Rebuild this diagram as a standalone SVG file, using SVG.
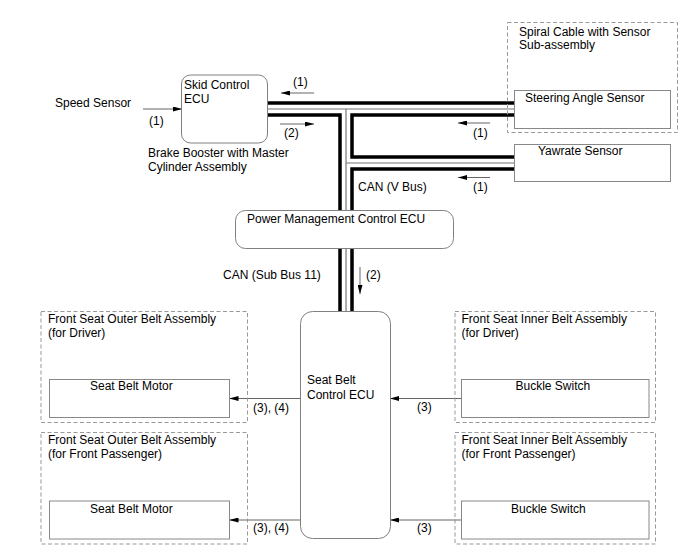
<svg xmlns="http://www.w3.org/2000/svg" width="688" height="560" viewBox="0 0 688 560">
<defs>
<marker id="ah" viewBox="0 0 9 5" refX="9" refY="2.5" markerWidth="9" markerHeight="5" markerUnits="userSpaceOnUse" orient="auto">
<path d="M0,0 L9,2.5 L0,5 z" fill="#000"/>
</marker>
</defs>
<style>
text{font-family:"Liberation Sans",Arial,sans-serif;font-size:12px;fill:#000}
.ecu{fill:#fff;stroke:#808080;stroke-width:1}
.box{fill:#fff;stroke:#888;stroke-width:1}
.grp{fill:none;stroke:#999;stroke-width:1;stroke-dasharray:4,2.5}
.blk{fill:none;stroke:#000;stroke-width:3.5;stroke-linejoin:miter}
.gry{fill:none;stroke:#777;stroke-width:1.2}
.arr{fill:none;stroke:#666;stroke-width:1;marker-end:url(#ah)}
</style>
<rect width="688" height="560" fill="#fff"/>

<g id="connectors">
<path class="blk" d="M267,103 H514"/>
<path class="gry" d="M267,109 H514 M346,109 V312 M346,163 H514"/>
<path class="blk" d="M267,115 H340 V312"/>
<path class="blk" d="M514,115 H352 V157 H514"/>
<path class="blk" d="M514,169 H352 V312"/>
<line class="arr" x1="143" y1="109" x2="182" y2="109"/>
<line class="arr" x1="314" y1="93" x2="281" y2="93"/>
<line class="arr" x1="280" y1="124" x2="314" y2="124"/>
<line class="arr" x1="490" y1="123" x2="458" y2="123"/>
<line class="arr" x1="490" y1="177.5" x2="458" y2="177.5"/>
<line class="arr" x1="360" y1="267" x2="360" y2="294"/>
<line class="arr" x1="300" y1="398.5" x2="229.5" y2="398.5"/>
<line class="arr" x1="461" y1="398.5" x2="390" y2="398.5"/>
<line class="arr" x1="300" y1="520" x2="229.5" y2="520"/>
<line class="arr" x1="461" y1="520" x2="390" y2="520"/>
<text x="149" y="125">(1)</text>
<text x="293" y="86">(1)</text>
<text x="284" y="137">(2)</text>
<text x="473" y="137">(1)</text>
<text x="473" y="191">(1)</text>
<text x="358" y="191">CAN (V Bus)</text>
<text x="223" y="279">CAN (Sub Bus 11)</text>
<text x="366" y="279">(2)</text>
<text x="253" y="412">(3), (4)</text>
<text x="417" y="411">(3)</text>
<text x="253" y="532">(3), (4)</text>
<text x="417" y="532">(3)</text>
</g>

<g id="speed-sensor">
<text x="55" y="107">Speed Sensor</text>
</g>

<g id="skid-control-ecu">
<rect class="ecu" x="181.5" y="75" width="86" height="68" rx="9"/>
<text x="184" y="89">Skid Control</text>
<text x="184" y="103">ECU</text>
<text x="148" y="157">Brake Booster with Master</text>
<text x="148" y="171">Cylinder Assembly</text>
</g>

<g id="spiral-cable">
<rect class="grp" x="507.5" y="22.5" width="170" height="110"/>
<text x="519" y="36">Spiral Cable with Sensor</text>
<text x="519" y="49">Sub-assembly</text>
</g>

<g id="steering-angle-sensor">
<rect class="box" x="514.5" y="90.5" width="156" height="38"/>
<text x="525" y="102">Steering Angle Sensor</text>
</g>

<g id="yawrate-sensor">
<rect class="box" x="514.5" y="144.5" width="156" height="37"/>
<text x="538" y="155">Yawrate Sensor</text>
</g>

<g id="power-management-ecu">
<rect class="ecu" x="235.5" y="210.5" width="218" height="38" rx="10"/>
<text x="247" y="223">Power Management Control ECU</text>
</g>

<g id="seat-belt-control-ecu">
<rect class="ecu" x="300.5" y="311.5" width="90" height="227" rx="12"/>
<text x="307" y="384">Seat Belt</text>
<text x="307" y="399">Control ECU</text>
</g>

<g id="outer-belt-driver">
<rect class="grp" x="41" y="311.5" width="206.5" height="111"/>
<text x="48" y="323">Front Seat Outer Belt Assembly</text>
<text x="48" y="337">(for Driver)</text>
<rect class="box" x="49.5" y="379.5" width="180" height="38"/>
<text x="90" y="390">Seat Belt Motor</text>
</g>

<g id="inner-belt-driver">
<rect class="grp" x="455" y="311.5" width="200.5" height="111"/>
<text x="461.5" y="323">Front Seat Inner Belt Assembly</text>
<text x="461.5" y="337">(for Driver)</text>
<rect class="box" x="461.5" y="379.5" width="187.5" height="38"/>
<text x="515.5" y="390">Buckle Switch</text>
</g>

<g id="outer-belt-passenger">
<rect class="grp" x="41" y="432.5" width="206.5" height="111.5"/>
<text x="48" y="444">Front Seat Outer Belt Assembly</text>
<text x="48" y="458">(for Front Passenger)</text>
<rect class="box" x="49.5" y="501" width="180" height="38"/>
<text x="90" y="513">Seat Belt Motor</text>
</g>

<g id="inner-belt-passenger">
<rect class="grp" x="455" y="432.5" width="200.5" height="111.5"/>
<text x="461.5" y="444">Front Seat Inner Belt Assembly</text>
<text x="461.5" y="458">(for Front Passenger)</text>
<rect class="box" x="461.5" y="501" width="187.5" height="38"/>
<text x="511" y="513">Buckle Switch</text>
</g>
</svg>
